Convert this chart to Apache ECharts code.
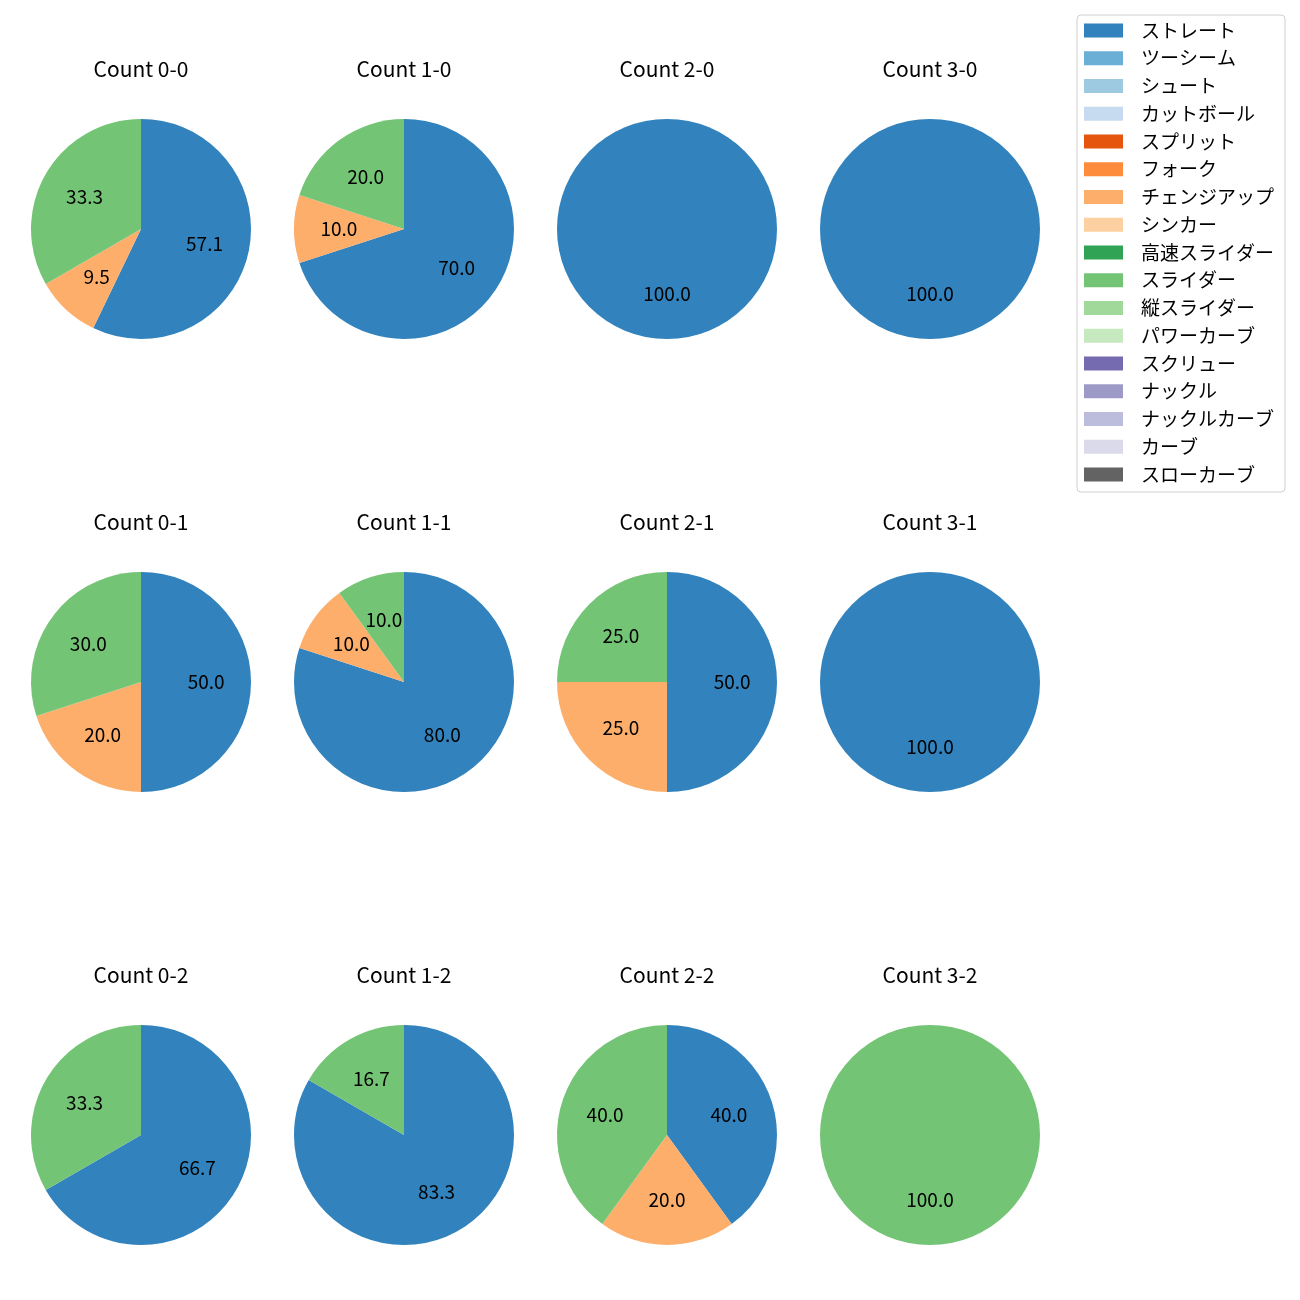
<!DOCTYPE html>
<html>
<head>
<meta charset="utf-8">
<script src="https://cdn.jsdelivr.net/npm/echarts@6/dist/echarts.min.js"></script>
<style>
html,body{margin:0;padding:0;background:#fff;}
#chart{width:1300px;height:1300px;}
</style>
</head>
<body>
<div id="chart"></div>
<script>
// Pitch type categories (legend order)
const categories = ['ストレート','ツーシーム','シュート','カットボール','スプリット','フォーク','チェンジアップ','シンカー','高速スライダー','スライダー','縦スライダー','パワーカーブ','スクリュー','ナックル','ナックルカーブ','カーブ','スローカーブ'];
const colors = ['#3182bd','#6baed6','#9ecae1','#c6dbef','#e6550d','#fd8d3c','#fdae6b','#fdd0a2','#31a354','#74c476','#a1d99b','#c7e9c0','#756bb1','#9e9ac8','#bcbddc','#dadaeb','#636363'];

// Panel titles (row-major: 4 columns x 3 rows)
const panelTitles = ['Count 0-0','Count 1-0','Count 2-0','Count 3-0',
                     'Count 0-1','Count 1-1','Count 2-1','Count 3-1',
                     'Count 0-2','Count 1-2','Count 2-2','Count 3-2'];

// Pitch counts per panel, only non-zero types listed: [category, count]
const count00 = [['ストレート',12],['チェンジアップ',2],['スライダー',7]];
const count10 = [['ストレート',7],['チェンジアップ',1],['スライダー',2]];
const count20 = [['ストレート',1]];
const count30 = [['ストレート',1]];
const count01 = [['ストレート',5],['チェンジアップ',2],['スライダー',3]];
const count11 = [['ストレート',8],['チェンジアップ',1],['スライダー',1]];
const count21 = [['ストレート',2],['チェンジアップ',1],['スライダー',1]];
const count31 = [['ストレート',1]];
const count02 = [['ストレート',2],['スライダー',1]];
const count12 = [['ストレート',5],['スライダー',1]];
const count22 = [['ストレート',2],['チェンジアップ',1],['スライダー',2]];
const count32 = [['スライダー',1]];
const panels = [count00,count10,count20,count30,count01,count11,count21,count31,count02,count12,count22,count32];

// Layout
const colX = [141, 404, 667, 930];
const rowY = [229, 682, 1135];
const R = 110;
const FONT = "'Noto Sans CJK JP', 'Noto Sans', sans-serif";

function fullData(panel, transparent) {
  const m = {};
  panel.forEach(p => { m[p[0]] = p[1]; });
  return categories.map((c, i) => {
    const v = m[c] || 0;
    return {
      name: c,
      value: v,
      itemStyle: { color: transparent ? 'rgba(0,0,0,0)' : colors[i] },
      label: { show: transparent && v > 0 }
    };
  });
}

const titles = [];
const series = [];
panels.forEach((panel, k) => {
  const cx = colX[k % 4], cy = rowY[Math.floor(k / 4)];
  titles.push({
    text: panelTitles[k], left: cx, top: cy - 172,
    textAlign: 'center', padding: 0,
    textStyle: { fontFamily: FONT, fontSize: 21, lineHeight: 24, fontWeight: 'normal', color: '#000' }
  });
  series.push({
    type: 'pie', name: panelTitles[k], center: [cx, cy], radius: [0, R],
    startAngle: 90, clockwise: true, silent: true, animation: false,
    label: { show: false }, labelLine: { show: false },
    emphasis: { disabled: true },
    data: fullData(panel, false)
  });
});
panels.forEach((panel, k) => {
  const cx = colX[k % 4], cy = rowY[Math.floor(k / 4)];
  series.push({
    type: 'pie', name: panelTitles[k] + ' labels', center: [cx, cy], radius: [0, R * 1.13],
    startAngle: 90, clockwise: true, silent: true, animation: false, z: 5,
    label: {
      position: 'inside', color: '#000', fontFamily: FONT, fontSize: 19,
      formatter: p => p.percent.toFixed(1)
    },
    labelLine: { show: false },
    emphasis: { disabled: true },
    data: fullData(panel, true)
  });
});

const chart = echarts.init(document.getElementById('chart'));
chart.setOption({
  animation: false,
  title: titles,
  legend: {
    orient: 'vertical', left: 1077, top: 15,
    data: categories, icon: 'rect', itemWidth: 39, itemHeight: 14, itemGap: 8.75,
    padding: [6, 11, 8, 7],
    borderColor: '#d0d0d0', borderWidth: 1, borderRadius: 4,
    selectedMode: false,
    textStyle: { fontFamily: FONT, fontSize: 19, lineHeight: 19, color: '#000', padding: [0, 0, 0, 13] }
  },
  series: series
});
</script>
</body>
</html>
